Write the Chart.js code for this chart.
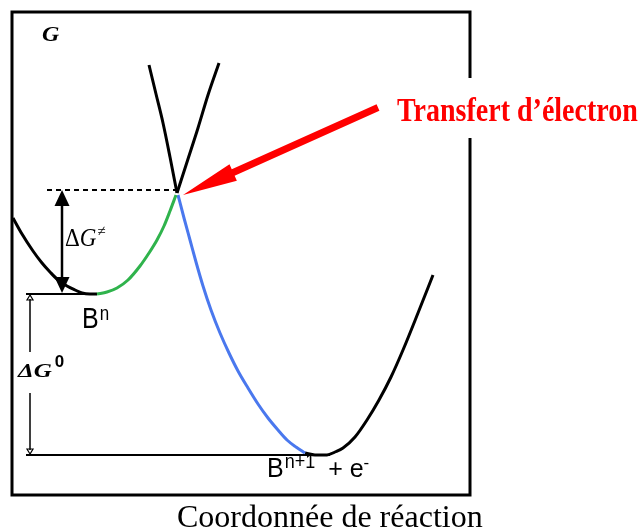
<!DOCTYPE html>
<html>
<head>
<meta charset="utf-8">
<script src="https://cdn.jsdelivr.net/npm/chart.js@4"></script>
<style>
    html, body { margin: 0; padding: 0; background: #fff; }
    canvas { display: block; }
</style>
</head>
<body>
<canvas id="energyChart" width="644" height="530"></canvas>
<script>
// Reaction coordinate (x) and free energy G (y) in frame units
const bnLeftX  = [1, 10, 21, 30, 38, 46, 55, 63, 70, 78, 85];
const bnLeftG  = [277, 261, 244, 232, 223, 215, 209, 205, 202, 201, 201];
const bnPathX  = [85, 95, 105, 116, 128, 137, 145, 152, 158, 164];
const bnPathG  = [201, 203, 207, 215, 229, 242, 255, 269, 284, 300];
const bnUpperX = [165, 176, 186, 196, 207];
const bnUpperG = [302, 336, 367, 400, 432];

const bn1UpperX = [137, 144, 151, 158, 165];
const bn1UpperG = [430, 401, 372, 338, 302];
const bn1PathX  = [166, 172, 178, 184, 191, 199, 208, 217, 226, 236, 246, 256, 266, 275, 284, 293];
const bn1PathG  = [300, 277, 255, 233, 209, 185, 162, 142, 124, 107, 91, 77, 65, 55, 48, 42];
const bn1RightX = [293, 303, 315, 323, 331, 343, 355, 367, 379, 391, 406, 421];
const bn1RightG = [42, 40, 40, 43, 47, 58, 75, 95, 118, 145, 182, 220];

// energy levels
const gTransition = 305;
const gBn = 201;
const gBn1 = 40;

const SERIF = '"Liberation Serif", "Times New Roman", serif';
const SANS = '"Liberation Sans", Arial, sans-serif';

function pts(xs, gs) {
    return xs.map((x, i) => ({ x: x, y: gs[i] }));
}

function curve(xs, gs, color) {
    return {
        data: pts(xs, gs),
        borderColor: color,
        borderWidth: 3,
        pointRadius: 0,
        fill: false,
        cubicInterpolationMode: 'monotone'
    };
}

function level(x0, x1, g, width, dash) {
    return {
        data: [{ x: x0, y: g }, { x: x1, y: g }],
        borderColor: '#000',
        borderWidth: width,
        borderDash: dash || [],
        pointRadius: 0,
        fill: false
    };
}

// draw text squeezed/stretched vertically like the original scan
function drawText(ctx, text, x, y, font, color, sy) {
    ctx.save();
    ctx.translate(x, y);
    ctx.scale(1, sy || 1);
    ctx.font = font;
    ctx.fillStyle = color || '#000';
    ctx.textBaseline = 'alphabetic';
    ctx.fillText(text, 0, 0);
    const w = ctx.measureText(text).width;
    ctx.restore();
    return w;
}

function filledHead(ctx, x, tipY, baseY, half) {
    ctx.beginPath();
    ctx.moveTo(x, tipY);
    ctx.lineTo(x - half, baseY);
    ctx.lineTo(x + half, baseY);
    ctx.closePath();
    ctx.fill();
}

function openHead(ctx, x, tipY, baseY, half) {
    ctx.beginPath();
    ctx.moveTo(x, tipY);
    ctx.lineTo(x - half, baseY);
    ctx.lineTo(x + half, baseY);
    ctx.closePath();
    ctx.stroke();
}

const figurePlugin = {
    id: 'figure',
    beforeDraw(chart) {
        const ctx = chart.ctx;
        ctx.save();
        ctx.fillStyle = '#fff';
        ctx.fillRect(0, 0, chart.width, chart.height);
        ctx.restore();
    },
    afterDatasetsDraw(chart) {
        const ctx = chart.ctx;
        const area = chart.chartArea;
        const X = v => chart.scales.x.getPixelForValue(v);
        const Y = v => chart.scales.y.getPixelForValue(v);

        ctx.save();

        // frame
        ctx.strokeStyle = '#000';
        ctx.lineWidth = 3;
        ctx.strokeRect(area.left, area.top, area.right - area.left, area.bottom - area.top);

        // activation energy arrow
        ctx.fillStyle = '#000';
        ctx.lineWidth = 2.5;
        ctx.beginPath();
        ctx.moveTo(X(50), Y(gTransition) + 10);
        ctx.lineTo(X(50), Y(gBn) - 10);
        ctx.stroke();
        filledHead(ctx, X(50), Y(gTransition), Y(gTransition) + 16, 7.5);
        filledHead(ctx, X(50), Y(gBn) - 1, Y(gBn) - 17, 7.5);

        // reaction free energy arrow (split around its label)
        ctx.lineWidth = 1.5;
        ctx.beginPath();
        ctx.moveTo(X(18), Y(gBn) + 5);
        ctx.lineTo(X(18), Y(143));
        ctx.moveTo(X(18), Y(102));
        ctx.lineTo(X(18), Y(gBn1) - 5);
        ctx.stroke();
        ctx.lineWidth = 1.2;
        openHead(ctx, X(18), Y(gBn) + 1, Y(gBn) + 6, 3);
        openHead(ctx, X(18), Y(gBn1) - 1, Y(gBn1) - 6, 3);

        // labels
        drawText(ctx, 'G', X(30), Y(454), 'bold italic 24px ' + SERIF, '#000', 0.9);

        let x = X(53);
        const yTs = Y(249);
        x += drawText(ctx, '\u0394', x, yTs, '23px ' + SERIF, '#000', 1.05);
        x += drawText(ctx, 'G', x, yTs, 'italic 23px ' + SERIF, '#000', 1.05);
        drawText(ctx, '\u2260', x + 1, yTs - 10, '15px ' + SERIF, '#000', 1.05);

        x = X(70);
        x += drawText(ctx, 'B', x, Y(167), '25px ' + SANS, '#000', 1.18);
        drawText(ctx, 'n', x + 1, Y(175), '17px ' + SANS, '#000', 1.18);

        x = X(6);
        x += drawText(ctx, '\u0394G', x, Y(118), 'bold italic 25px ' + SERIF, '#000', 0.75);
        drawText(ctx, '0', x + 3, Y(128), 'bold 17px ' + SANS, '#000', 0.95);

        x = X(255);
        const yB1 = Y(18);
        x += drawText(ctx, 'B', x, yB1, '25px ' + SANS, '#000', 1.1);
        x += drawText(ctx, 'n+1', x + 1, yB1 - 9, '18px ' + SANS, '#000', 1.1) + 1;
        x += drawText(ctx, ' + e', x + 6, yB1, '25px ' + SANS, '#000', 1.0) + 6;
        drawText(ctx, '-', x, yB1 - 9, '17px ' + SANS, '#000', 1.0);

        // x axis title
        drawText(ctx, 'Coordonn\u00e9e de r\u00e9action', X(165), Y(-32), '32px ' + SERIF, '#000', 1.0);

        // electron transfer callout
        const tx = X(385), ty = Y(374);
        ctx.fillStyle = '#fff';
        ctx.fillRect(tx - 16, ty - 43, chart.width - tx + 16, 60);
        drawText(ctx, 'Transfert d\u2019\u00e9lectron', tx, ty, 'bold 28px ' + SERIF, '#f00', 1.2);

        const tail = { x: X(366), y: Y(387.5) };
        const tip = { x: X(171), y: Y(300) };
        const dx = tip.x - tail.x, dy = tip.y - tail.y;
        const len = Math.sqrt(dx * dx + dy * dy);
        const ux = dx / len, uy = dy / len;
        const nx = -uy, ny = ux;
        const bx = tip.x - ux * 55, by = tip.y - uy * 55;
        const hw = 3.5, HW = 9;
        ctx.fillStyle = '#f00';
        ctx.beginPath();
        ctx.moveTo(tail.x + nx * hw, tail.y + ny * hw);
        ctx.lineTo(bx + nx * hw, by + ny * hw);
        ctx.lineTo(bx + nx * HW, by + ny * HW);
        ctx.lineTo(tip.x, tip.y);
        ctx.lineTo(bx - nx * HW, by - ny * HW);
        ctx.lineTo(bx - nx * hw, by - ny * hw);
        ctx.lineTo(tail.x - nx * hw, tail.y - ny * hw);
        ctx.closePath();
        ctx.fill();

        ctx.restore();
    }
};

const chart = new Chart(document.getElementById('energyChart'), {
    type: 'line',
    data: {
        datasets: [
            curve(bnPathX, bnPathG, '#2fb34c'),
            curve(bn1PathX, bn1PathG, '#4a78ee'),
            curve(bnLeftX, bnLeftG, '#000'),
            curve(bnUpperX, bnUpperG, '#000'),
            curve(bn1UpperX, bn1UpperG, '#000'),
            curve(bn1RightX, bn1RightG, '#000'),
            level(14, 85, gBn, 1.8),
            level(14, 318, gBn1, 1.8),
            level(35, 163, gTransition, 1.8, [5, 4])
        ]
    },
    options: {
        responsive: false,
        animation: false,
        layout: { padding: { left: 12, top: 12, right: 174, bottom: 35 } },
        scales: {
            x: { type: 'linear', min: 0, max: 458, display: false },
            y: { type: 'linear', min: 0, max: 483, display: false }
        },
        plugins: {
            legend: { display: false },
            tooltip: { enabled: false }
        }
    },
    plugins: [figurePlugin]
});
</script>
</body>
</html>
